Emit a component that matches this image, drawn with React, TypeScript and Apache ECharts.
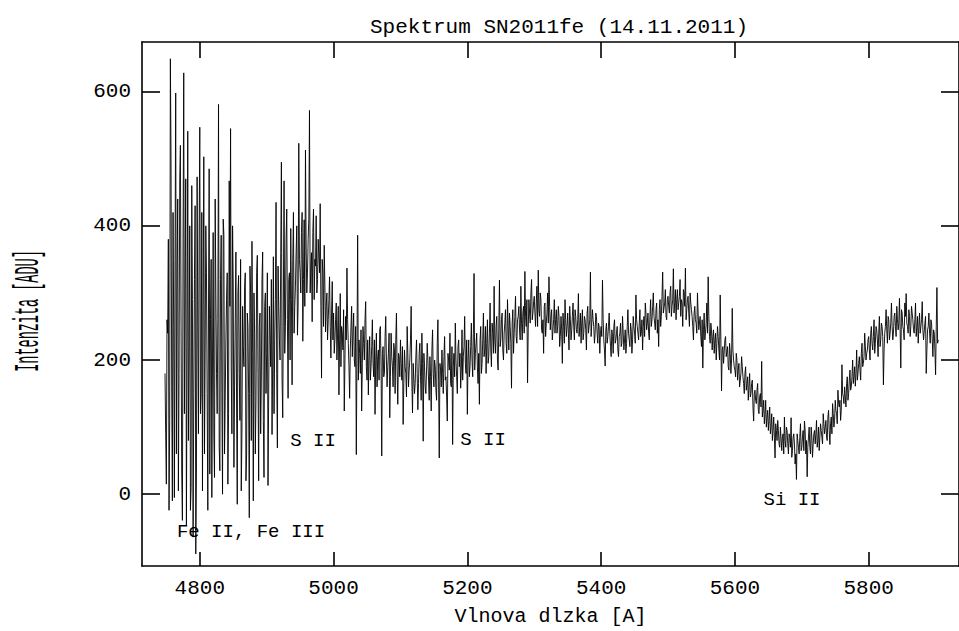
import React, { useEffect, useRef } from "react";
import * as echarts from "echarts";

// ---- data: intensity in ADU. Each segment gives the readings at start, start+2, ...
// (even) and at start+1, start+3, ... (odd) Å.
const STEP = 2;

const seg4748 = [180, 15, 240, -24, 649, 160, 420, -5, 598, 330, 5, 470, 250, -39, 628, 300, -46, 541, 200, -24, 460, -64, 320, -89, 473, 90];
const odd4748 = [90, 260, 380, 110, 500, -10, 250, 350, 60, 440, 180, 520, 30, 380, 120, 470, 220, 80, 400, 10, 290, 150, 430, 30, 250, 380];

const seg4800 = [
  547, 150, 5, 503, 210, 330, -24, 485, 260, -5,
  390, 25, 300, 120, 581, 35, 386, 0, 387, 140,
  290, 15, 467, 545, 90, 310, 160, 361, -15, 326,
  110, 5, 280, 190, 330, 60, 250, -35, 300, 377,
  -10, 240, 140, 356, 20, 270, 170, 361, 25, 300,
];
const odd4800 = [
  120, 420, 280, 60, 400, 150, 270, 30, 350, 200,
  90, 440, 180, 260, 70, 320, 150, 410, 60, 230,
  330, 120, 280, 190, 400, 40, 260, 130, 300, 180,
  350, 90, 220, 310, 20, 270, 150, 340, 80, 210,
  300, 60, 330, 180, 250, 90, 320, 110, 280, 150,
];

const seg4900 = [
  210, 13, 280, 190, 89, 354, 230, 435, 69, 280,
  200, 495, 114, 467, 250, 425, 143, 330, 396, 163,
  420, 280, 360, 237, 523, 330, 390, 228, 409, 513,
  300, 380, 572, 340, 257, 425, 350, 415, 320, 380,
  433, 173, 330, 371, 242, 300, 260, 324, 203, 317,
];
const odd4900 = [
  330, 150, 240, 320, 200, 120, 290, 180, 340, 230,
  360, 170, 300, 210, 380, 260, 320, 200, 290, 350,
  240, 310, 400, 280, 350, 300, 420, 320, 280, 370,
  330, 410, 300, 360, 390, 290, 340, 300, 380, 330,
  280, 350, 250, 310, 280, 230, 290, 250, 270, 230,
];

const seg5000 = [
  270, 230, 285, 240, 148, 299, 250, 215, 124, 265,
  337, 225, 143, 250, 205, 270, 190, 59, 386, 230,
  180, 124, 250, 200, 287, 170, 148, 235, 190, 260,
  175, 119, 240, 205, 170, 250, 57, 220, 180, 265,
  160, 210, 114, 240, 190, 225, 150, 270, 134, 205,
];
const odd5000 = [
  210, 260, 200, 280, 230, 190, 240, 275, 200, 230,
  260, 190, 215, 280, 240, 200, 250, 220, 170, 210,
  245, 195, 225, 260, 190, 230, 205, 170, 220, 195,
  230, 200, 160, 215, 245, 190, 210, 175, 235, 200,
  190, 240, 175, 205, 160, 215, 230, 185, 210, 175,
];

const seg5100 = [
  230, 170, 104, 215, 180, 250, 160, 200, 280, 121,
  195, 165, 230, 126, 210, 175, 240, 79, 190, 150,
  225, 170, 205, 124, 245, 160, 190, 140, 260, 54,
  185, 215, 150, 235, 175, 109, 200, 240, 160, 74,
  210, 255, 175, 220, 190, 158, 245, 205, 265, 180,
];
const odd5100 = [
  195, 220, 165, 190, 145, 210, 185, 230, 170, 195,
  150, 205, 180, 165, 225, 140, 195, 210, 160, 185,
  200, 140, 175, 215, 180, 200, 155, 225, 170, 195,
  160, 180, 205, 170, 145, 210, 185, 165, 220, 190,
  175, 200, 150, 230, 210, 185, 170, 220, 195, 230,
];

const seg5200 = [
  119, 230, 190, 255, 175, 329, 210, 240, 165, 134,
  250, 195, 270, 215, 180, 260, 205, 285, 190, 240,
  310, 210, 265, 185, 319, 230, 270, 200, 255, 225,
  290, 215, 250, 158, 275, 240, 295, 225, 265, 245,
  310, 230, 280, 332, 250, 166, 290, 255, 320, 270,
];
const odd5200 = [
  200, 175, 220, 200, 240, 185, 225, 190, 210, 230,
  180, 230, 205, 250, 225, 195, 240, 215, 255, 210,
  230, 250, 200, 245, 220, 260, 215, 240, 275, 210,
  250, 270, 225, 255, 210, 265, 235, 260, 280, 230,
  255, 270, 240, 265, 290, 245, 270, 300, 260, 285,
];

const seg5300 = [
  295, 250, 310, 334, 265, 290, 240, 210, 285, 255,
  300, 324, 245, 275, 230, 290, 260, 240, 280, 220,
  265, 195, 250, 290, 235, 270, 215, 260, 245, 285,
  230, 265, 240, 299, 250, 225, 275, 240, 260, 215,
  280, 250, 331, 235, 260, 225, 270, 240, 255, 210,
];
const odd5300 = [
  270, 285, 250, 275, 300, 245, 260, 280, 235, 270,
  255, 280, 265, 230, 260, 240, 275, 250, 265, 235,
  245, 270, 225, 260, 250, 240, 280, 230, 265, 250,
  275, 245, 260, 235, 270, 255, 230, 265, 245, 270,
  240, 260, 235, 275, 250, 240, 265, 225, 250, 240,
];

const seg5400 = [
  250, 319, 230, 191, 255, 235, 270, 220, 245, 210,
  260, 230, 250, 205, 240, 220, 265, 215, 245, 225,
  275, 230, 255, 210, 265, 240, 297, 250, 230, 275,
  240, 215, 265, 285, 245, 270, 230, 290, 260, 300,
  255, 275, 240, 220, 290, 265, 331, 270, 305, 260,
];
const odd5400 = [
  235, 260, 215, 245, 225, 250, 240, 205, 235, 250,
  225, 240, 215, 235, 255, 225, 240, 230, 210, 250,
  240, 220, 245, 230, 250, 225, 260, 240, 255, 235,
  260, 250, 235, 270, 255, 240, 265, 250, 280, 265,
  245, 285, 260, 275, 250, 295, 270, 285, 265, 290,
];

const seg5500 = [
  295, 270, 310, 280, 336, 285, 260, 305, 275, 320,
  290, 250, 300, 337, 275, 295, 250, 285, 265, 230,
  280, 255, 300, 245, 265, 220, 188, 270, 240, 285,
  324, 235, 255, 215, 245, 230, 200, 250, 215, 297,
  154, 220, 195, 235, 205, 190, 225, 180, 277, 200,
];
const odd5500 = [
  280, 300, 265, 290, 270, 305, 290, 275, 295, 265,
  285, 305, 280, 260, 290, 270, 300, 275, 250, 270,
  260, 240, 270, 255, 235, 260, 245, 230, 255, 240,
  265, 225, 245, 235, 210, 240, 225, 235, 200, 230,
  215, 195, 230, 205, 220, 185, 210, 200, 215, 190,
];

const seg5600 = [
  185, 210, 170, 195, 160, 205, 175, 150, 190, 165,
  140, 180, 150, 170, 109, 155, 135, 165, 120, 150,
  198, 125, 105, 140, 115, 95, 130, 100, 80, 115,
  54, 95, 110, 75, 100, 65, 90, 115, 70, 95,
  60, 85, 114, 65, 90, 45, 22, 80, 60, 105,
];
const odd5600 = [
  175, 200, 185, 160, 180, 190, 165, 180, 155, 175,
  160, 145, 165, 130, 150, 140, 155, 125, 145, 130,
  115, 140, 120, 100, 125, 110, 90, 120, 95, 85,
  105, 80, 95, 70, 100, 85, 60, 80, 100, 75,
  90, 70, 55, 85, 75, 60, 90, 70, 85, 65,
];

const seg5700 = [
  70, 95, 109, 60, 26, 85, 70, 100, 55, 90,
  75, 110, 80, 65, 105, 85, 120, 90, 110, 80,
  125, 74, 115, 135, 100, 140, 120, 155, 130, 110,
  193, 145, 160, 130, 175, 150, 185, 160, 200, 175,
  161, 215, 180, 205, 170, 225, 195, 240, 200, 215,
];
const odd5700 = [
  85, 65, 95, 80, 70, 100, 60, 85, 75, 95,
  90, 70, 100, 85, 95, 75, 105, 100, 85, 115,
  95, 105, 90, 120, 110, 125, 105, 135, 140, 125,
  150, 135, 145, 165, 140, 170, 155, 175, 165, 190,
  180, 170, 195, 185, 210, 190, 205, 220, 210, 230,
];

const seg5800 = [
  235, 200, 250, 215, 260, 225, 245, 205, 265, 230,
  250, 163, 240, 275, 225, 260, 240, 285, 230, 265,
  250, 280, 245, 292, 188, 270, 245, 285, 299, 250,
  275, 235, 280, 260, 240, 285, 250, 225, 270, 240,
  287, 230, 255, 180, 245, 270, 225, 255, 205, 240,
  178, 308, 230,
];
const odd5800 = [
  215, 240, 225, 235, 210, 250, 230, 240, 220, 255,
  235, 215, 250, 245, 265, 230, 255, 250, 240, 270,
  235, 260, 255, 245, 275, 250, 230, 265, 255, 240,
  265, 250, 270, 245, 260, 235, 265, 250, 240, 260,
  245, 230, 265, 215, 250, 240, 260, 230, 245, 215,
  250, 225,
];

const segments: [number, number[], number[]][] = [
  [4748, seg4748, odd4748],
  [4800, seg4800, odd4800],
  [4900, seg4900, odd4900],
  [5000, seg5000, odd5000],
  [5100, seg5100, odd5100],
  [5200, seg5200, odd5200],
  [5300, seg5300, odd5300],
  [5400, seg5400, odd5400],
  [5500, seg5500, odd5500],
  [5600, seg5600, odd5600],
  [5700, seg5700, odd5700],
  [5800, seg5800, odd5800],
];

const X_TICKS = [4800, 5000, 5200, 5400, 5600, 5800];
const Y_TICKS = [0, 200, 400, 600];
const X_MIN = 4713.6;
const X_MAX = 5935;
const Y_MIN = -107;
const Y_MAX = 674;

const TITLE = "Spektrum SN2011fe (14.11.2011)";
const X_NAME = "Vlnova dlzka [A]";
const Y_NAME = "Intenzita [ADU]";

const LINE_LABELS = [
  { text: "S II", x: 313, y: 441 },
  { text: "S II", x: 483, y: 440 },
  { text: "Si II", x: 792, y: 500 },
  { text: "Fe II, Fe III", x: 251, y: 532 },
];

const FONT = "Liberation Mono";

export default function App() {
  const ref = useRef<HTMLDivElement>(null);

  useEffect(() => {
    if (!ref.current) return;
    const chart = echarts.init(ref.current, null, { renderer: "svg" });

    const data: [number, number][] = [];
    segments.forEach(([start, even, odd]) => {
      even.forEach((v, i) => {
        data.push([start + STEP * i, v]);
        if (i < odd.length) data.push([start + STEP * i + 1, odd[i]]);
      });
    });

    const axisLine = { show: true, onZero: false, lineStyle: { color: "#000", width: 1.6 } };
    const tickStyle = { color: "#000", width: 1.6 };
    const labelStyle = {
      fontFamily: FONT,
      fontSize: 21,
      color: "#000",
      formatter: (v: number) => String(v),
    };

    chart.setOption({
      animation: false,
      backgroundColor: "#fff",
      title: {
        text: TITLE,
        left: 554,
        top: 12,
        textAlign: "center",
        textStyle: { fontFamily: FONT, fontSize: 21, fontWeight: "normal", color: "#000" },
      },
      grid: { left: 142, top: 42, right: -7, bottom: 62, containLabel: false },
      xAxis: [
        {
          type: "value",
          min: X_MIN,
          max: X_MAX,
          position: "bottom",
          name: X_NAME,
          nameLocation: "middle",
          nameGap: 40,
          nameTextStyle: { fontFamily: FONT, fontSize: 20, color: "#000" },
          axisLine,
          axisTick: { show: true, inside: true, length: 14, lineStyle: tickStyle, customValues: X_TICKS },
          axisLabel: { ...labelStyle, margin: 12, customValues: X_TICKS },
          splitLine: { show: false },
        },
        {
          type: "value",
          min: X_MIN,
          max: X_MAX,
          position: "top",
          axisLine,
          axisTick: { show: true, inside: true, length: 16, lineStyle: tickStyle, customValues: X_TICKS },
          axisLabel: { show: false },
          splitLine: { show: false },
        },
      ],
      yAxis: [
        {
          type: "value",
          min: Y_MIN,
          max: Y_MAX,
          position: "left",
          axisLine,
          axisTick: { show: true, inside: true, length: 18, lineStyle: tickStyle, customValues: Y_TICKS },
          axisLabel: { ...labelStyle, margin: 11, customValues: Y_TICKS },
          splitLine: { show: false },
        },
        {
          type: "value",
          min: Y_MIN,
          max: Y_MAX,
          position: "right",
          axisLine,
          axisTick: { show: true, inside: true, length: 18, lineStyle: tickStyle, customValues: Y_TICKS },
          axisLabel: { show: false },
          splitLine: { show: false },
        },
      ],
      series: [
        {
          type: "line",
          xAxisIndex: 0,
          yAxisIndex: 0,
          data,
          symbol: "none",
          showSymbol: false,
          silent: true,
          lineStyle: { color: "#000", width: 0.9 },
        },
      ],
      graphic: [
        {
          type: "text",
          x: 28.5,
          y: 311,
          rotation: Math.PI / 2,
          scaleY: 2.6,
          style: {
            text: Y_NAME,
            fontFamily: FONT,
            fontSize: 13.5,
            fill: "#000",
            textAlign: "center",
            textVerticalAlign: "middle",
          },
        },
        ...LINE_LABELS.map((l) => ({
          type: "text",
          x: l.x,
          y: l.y,
          style: {
            text: l.text,
            fontFamily: FONT,
            fontSize: 19,
            fill: "#000",
            textAlign: "center",
            textVerticalAlign: "middle",
          },
        })),
      ],
    });

    return () => chart.dispose();
  }, []);

  return (
    <div
      ref={ref}
      style={{ position: "fixed", left: 0, top: 0, width: 959, height: 631, overflow: "hidden" }}
    />
  );
}
